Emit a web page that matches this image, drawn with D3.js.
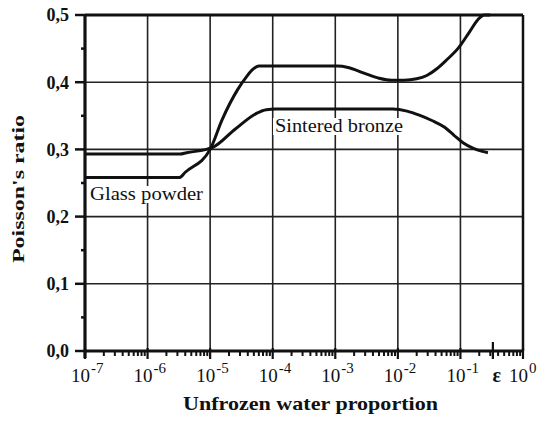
<!DOCTYPE html>
<html>
<head>
<meta charset="utf-8">
<script src="https://cdn.jsdelivr.net/npm/d3@7"></script>
<style>
  body { margin: 0; background: #fff; }
  svg { display: block; }
  text { font-family: "Liberation Serif", "Times New Roman", serif; fill: #111; }
</style>
</head>
<body>
<div id="chart"></div>
<script>
// values
const glassX  = [1e-7, 3.2e-6, 4e-6, 1e-5, 1.55e-5, 2.75e-5, 3.8e-5, 4.8e-5, 6e-5, 1.07e-3, 1.6e-3, 2.8e-3, 5e-3, 7.9e-3, 0.0126, 0.02, 0.029, 0.042, 0.06, 0.093, 0.14, 0.19, 0.24, 0.30];
const glassNu = [0.258, 0.258, 0.266, 0.30, 0.344, 0.389, 0.408, 0.419, 0.424, 0.424, 0.422, 0.414, 0.406, 0.403, 0.403, 0.405, 0.41, 0.42, 0.433, 0.451, 0.475, 0.493, 0.50, 0.50];

const bronzeX  = [1e-7, 3.3e-6, 4.2e-6, 1.1e-5, 2.5e-5, 5.6e-5, 7.9e-5, 1.12e-4, 8.3e-3, 0.014, 0.022, 0.035, 0.056, 0.079, 0.11, 0.158, 0.224, 0.275];
const bronzeNu = [0.293, 0.293, 0.295, 0.303, 0.33, 0.354, 0.359, 0.36, 0.36, 0.357, 0.351, 0.343, 0.333, 0.321, 0.31, 0.302, 0.297, 0.295];

const yTicks = [0, 0.1, 0.2, 0.3, 0.4, 0.5];
const yTickLabels = ["0,0", "0,1", "0,2", "0,3", "0,4", "0,5"];
const yMinor = [0.05, 0.15, 0.25, 0.35, 0.45];
const xDecades = [1e-7, 1e-6, 1e-5, 1e-4, 1e-3, 1e-2, 1e-1, 1];
const xExponents = ["-7", "-6", "-5", "-4", "-3", "-2", "-1", "0"];
const epsilonX = 0.33;

const width = 542, height = 423;
const margin = { top: 15, left: 85, bottom: 72, right: 19 };
const iwidth = width - margin.left - margin.right;
const iheight = height - margin.top - margin.bottom;

const svg = d3.select("#chart").append("svg")
    .attr("width", width)
    .attr("height", height);

const g = svg.append("g").attr("transform", `translate(${margin.left},${margin.top})`);

const x = d3.scaleLog().domain([1e-7, 1]).range([0, iwidth]);
const y = d3.scaleLinear().domain([0, 0.5]).range([iheight, 0]);

// grid
g.selectAll(".hgrid").data(yTicks.slice(1, 5)).enter().append("line")
    .attr("x1", 0).attr("x2", iwidth)
    .attr("y1", d => y(d)).attr("y2", d => y(d))
    .attr("stroke", "#222").attr("stroke-width", 1.6);
g.selectAll(".vgrid").data(xDecades.slice(1, 7)).enter().append("line")
    .attr("x1", d => x(d)).attr("x2", d => x(d))
    .attr("y1", 0).attr("y2", iheight)
    .attr("stroke", "#222").attr("stroke-width", 1.6);

// minor x ticks
const minorX = [];
xDecades.slice(0, 7).forEach(dec => { for (let k = 2; k <= 9; k++) minorX.push(dec * k); });
g.selectAll(".xminor").data(minorX).enter().append("line")
    .attr("x1", d => x(d)).attr("x2", d => x(d))
    .attr("y1", iheight - 1).attr("y2", iheight + 5)
    .attr("stroke", "#111").attr("stroke-width", 2);

// major x ticks
g.selectAll(".xmajor").data(xDecades).enter().append("line")
    .attr("x1", d => x(d)).attr("x2", d => x(d))
    .attr("y1", iheight - 3).attr("y2", iheight + 8)
    .attr("stroke", "#111").attr("stroke-width", 2.2);
g.append("line")
    .attr("x1", x(epsilonX)).attr("x2", x(epsilonX))
    .attr("y1", iheight - 9).attr("y2", iheight + 8)
    .attr("stroke", "#111").attr("stroke-width", 2.2);

// y ticks
g.selectAll(".ymajor").data(yTicks).enter().append("line")
    .attr("x1", -10).attr("x2", 0)
    .attr("y1", d => y(d)).attr("y2", d => y(d))
    .attr("stroke", "#111").attr("stroke-width", 2.5);
g.selectAll(".yminor").data(yMinor).enter().append("line")
    .attr("x1", -4).attr("x2", 0)
    .attr("y1", d => y(d)).attr("y2", d => y(d))
    .attr("stroke", "#111").attr("stroke-width", 2.5);

// frame
g.append("line").attr("x1", 0).attr("x2", iwidth).attr("y1", 0).attr("y2", 0)
    .attr("stroke", "#111").attr("stroke-width", 3);
g.append("line").attr("x1", iwidth).attr("x2", iwidth).attr("y1", 0).attr("y2", iheight)
    .attr("stroke", "#111").attr("stroke-width", 2.5);
g.append("line").attr("x1", 0).attr("x2", iwidth).attr("y1", iheight).attr("y2", iheight)
    .attr("stroke", "#111").attr("stroke-width", 3);
g.append("line").attr("x1", 0).attr("x2", 0).attr("y1", -1).attr("y2", iheight + 7)
    .attr("stroke", "#111").attr("stroke-width", 3.2);

// curves
const line = d3.line().x(d => x(d[0])).y(d => y(d[1])).curve(d3.curveMonotoneX);
g.append("path").datum(glassX.map((v, i) => [v, glassNu[i]]))
    .attr("d", line).attr("fill", "none").attr("stroke", "#111").attr("stroke-width", 3);
g.append("path").datum(bronzeX.map((v, i) => [v, bronzeNu[i]]))
    .attr("d", line).attr("fill", "none").attr("stroke", "#111").attr("stroke-width", 3);

// y tick labels
g.selectAll(".ylabel").data(yTicks).enter().append("text")
    .attr("x", -16).attr("y", d => y(d)).attr("dy", "0.36em")
    .attr("text-anchor", "end")
    .style("font-size", "18px").style("font-weight", "bold")
    .text((d, i) => yTickLabels[i]);

// x tick labels
xDecades.forEach((d, i) => {
    const t = g.append("text")
        .attr("x", x(d) - 14).attr("y", iheight + 31)
        .style("font-size", "19px");
    t.append("tspan").text("10");
    t.append("tspan").attr("dy", -9).attr("dx", 1).style("font-size", "15px").text(xExponents[i]);
});
g.append("text")
    .attr("x", x(epsilonX) + 4).attr("y", iheight + 31)
    .attr("text-anchor", "middle")
    .style("font-size", "20px").style("font-weight", "bold")
    .text("ε");

// axis titles
svg.append("text")
    .attr("x", 183).attr("y", 410)
    .attr("textLength", 255).attr("lengthAdjust", "spacingAndGlyphs")
    .style("font-size", "19px").style("font-weight", "bold")
    .text("Unfrozen water proportion");
svg.append("text")
    .attr("transform", `translate(24, 263) rotate(-90)`)
    .attr("textLength", 148).attr("lengthAdjust", "spacingAndGlyphs")
    .style("font-size", "16px").style("font-weight", "bold")
    .text("Poisson's ratio");

// curve labels with white background
function curveLabel(px, py, w, txt) {
    const t = svg.append("text")
        .attr("x", px).attr("y", py)
        .attr("textLength", w).attr("lengthAdjust", "spacingAndGlyphs")
        .style("font-size", "18px")
        .text(txt);
    const b = t.node().getBBox();
    svg.insert("rect", () => t.node())
        .attr("x", b.x - 2).attr("y", b.y + 2)
        .attr("width", b.width + 3).attr("height", b.height - 3)
        .attr("fill", "#fff");
}
curveLabel(90, 200, 113, "Glass powder");
curveLabel(275, 132, 128, "Sintered bronze");
</script>
</body>
</html>
